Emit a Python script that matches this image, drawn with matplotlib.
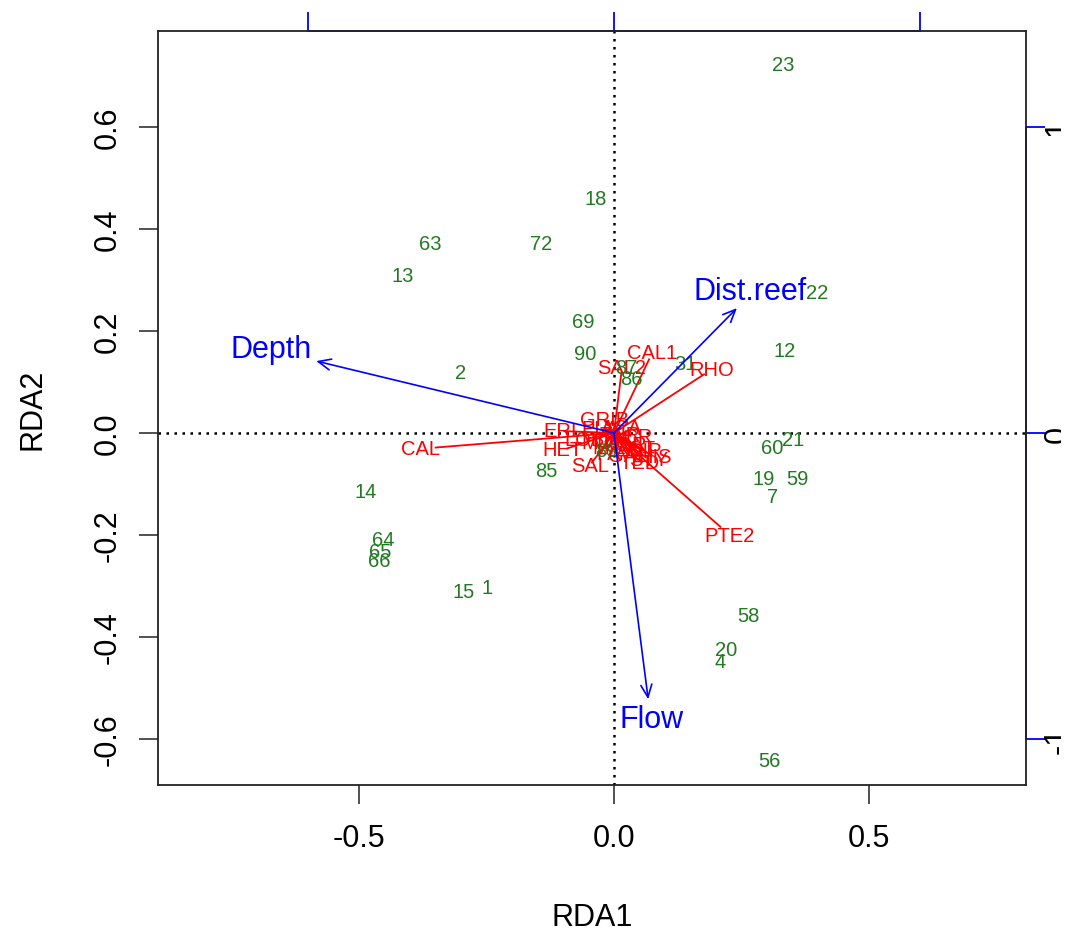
import numpy as np
import matplotlib.pyplot as plt
from matplotlib.transforms import Bbox

plt.rcParams['font.family'] = ['Liberation Sans', 'DejaVu Sans']
plt.rcParams['axes.unicode_minus'] = False

# site scores (RDA1, RDA2)
site_names = ['23', '18', '63', '72', '13', '22', '69', '90', '12', '2',
              '31', '87', '86', '60', '21', '19', '59', '7', '85', '89',
              '14', '64', '65', '66', '15', '1', '58', '20', '4', '56']
site_x = [0.331, -0.035, -0.361, -0.143, -0.414, 0.398, -0.061, -0.057, 0.335, -0.300,
          0.141, 0.025, 0.035, 0.310, 0.351, 0.294, 0.359, 0.312, -0.133, -0.014,
          -0.486, -0.453, -0.459, -0.461, -0.294, -0.249, 0.263, 0.220, 0.208, 0.304]
site_y = [0.722, 0.459, 0.371, 0.371, 0.308, 0.275, 0.218, 0.155, 0.161, 0.118,
          0.137, 0.129, 0.106, -0.029, -0.012, -0.090, -0.090, -0.124, -0.073, -0.035,
          -0.114, -0.208, -0.233, -0.249, -0.310, -0.302, -0.357, -0.424, -0.447, -0.641]

# species scores
sp_names = ['CAL', 'CAL1', 'RHO', 'PTE2', 'SAL2', 'GRIB', 'ERI', 'HET', 'SAL', 'TED',
            'HIS', 'POR', 'ACR', 'MON', 'FAV', 'LOB', 'PLA', 'DIP', 'TUR',
            'AST', 'GAL', 'MIL', 'STY', 'ACA']
sp_x = [-0.380, 0.075, 0.192, 0.227, 0.016, -0.018, -0.106, -0.100, -0.047, 0.051,
        0.080, 0.022, 0.035, -0.018, 0.002, -0.057, -0.027, 0.061, 0.012,
        0.045, 0.028, -0.010, 0.068, 0.015]
sp_y = [-0.031, 0.157, 0.125, -0.200, 0.129, 0.027, 0.004, -0.033, -0.063, -0.057,
        -0.047, -0.022, -0.006, -0.018, -0.041, -0.012, 0.008, -0.035, -0.002,
        -0.030, -0.045, -0.028, -0.052, 0.010]

# environmental biplot scores (right/top axis units) and label spots
env_names = ['Depth', 'Dist.reef', 'Flow']
env_x = [-0.973, 0.402, 0.112]
env_y = [0.235, 0.408, -0.870]
env_lab_x = [-0.672, 0.267, 0.073]
env_lab_y = [0.165, 0.278, -0.561]
mul = 0.6

green = '#217a21'

fig = plt.figure(figsize=(10.91, 9.37), dpi=100)
ax = fig.add_axes([158/1091, 1-786/937, 868/1091, 754/937])
ax.set_xlim(-0.894, 0.808)
ax.set_ylim(-0.690, 0.788)

ax.axhline(0, color='black', ls=(0, (1, 2.2)), lw=1.8, zorder=1)
ax.axvline(0, color='black', ls=(0, (1, 2.2)), lw=1.8, zorder=1)

# species arrows + labels
for n, x, y in zip(sp_names, sp_x, sp_y):
    ax.plot([0, x*0.92], [0, y*0.92], color='red', lw=1.3, zorder=2)
    ax.text(x, y, n, color='red', fontsize=14.5, ha='center', va='center', zorder=2)

# sites
for n, x, y in zip(site_names, site_x, site_y):
    ax.text(x, y, n, color=green, fontsize=14.5, ha='center', va='center', zorder=3)

# environmental arrows
for n, x, y, lx, ly in zip(env_names, env_x, env_y, env_lab_x, env_lab_y):
    ax.annotate('', xy=(x*mul, y*mul), xytext=(0, 0),
                arrowprops=dict(arrowstyle='->,head_length=0.5,head_width=0.22',
                                color='blue', lw=1.2, shrinkA=0, shrinkB=0,
                                mutation_scale=18), zorder=4)
    ax.text(lx, ly, n, color='blue', fontsize=22, ha='center', va='center', zorder=4)

ax.set_xticks([-0.5, 0.0, 0.5])
ax.set_xticklabels(['-0.5', '0.0', '0.5'])
ax.set_yticks([-0.6, -0.4, -0.2, 0.0, 0.2, 0.4, 0.6])
ax.set_yticklabels(['-0.6', '-0.4', '-0.2', '0.0', '0.2', '0.4', '0.6'])
ax.tick_params(length=13.7, width=1.1, labelsize=22, color='#222222')
ax.tick_params(axis='x', pad=14)
ax.tick_params(axis='y', pad=12, labelrotation=90)
for lab in ax.get_yticklabels():
    lab.set_va('center')
for s in ax.spines.values():
    s.set_linewidth(1.3)
    s.set_color('#222222')

ax.set_xlabel('RDA1', fontsize=22)
ax.xaxis.set_label_coords(0.5, -0.175)
ax.xaxis.label.set_va('center')
ax.set_ylabel('RDA2', fontsize=22)
ax.yaxis.set_label_coords(-0.145, 0.5)
ax.yaxis.label.set_va('center')

# biplot axes for the arrows (top labels sit above the picture)
top = ax.secondary_xaxis('top', functions=(lambda v: v/mul, lambda v: v*mul))
top.set_xticks([-1, 0, 1])
top.tick_params(length=13.7, width=1.3, color='blue', labeltop=False)
top.spines['top'].set_color('blue')
top.spines['top'].set_linewidth(1.3)
top.spines['top'].set_bounds(-1, 1)

right = ax.secondary_yaxis('right', functions=(lambda v: v/mul, lambda v: v*mul))
right.set_yticks([-1, 0, 1])
right.tick_params(length=13.7, width=1.3, color='blue', labelsize=22, labelrotation=90, pad=-2)
clip = Bbox([[1026, 0], [1061, 937]])
for lab in right.get_yticklabels():
    lab.set_va('center')
    lab.set_clip_on(True)
    lab.set_clip_box(clip)
right.spines['right'].set_color('blue')
right.spines['right'].set_linewidth(1.3)
right.spines['right'].set_bounds(-1, 1)

fig.savefig('out.png', dpi=100)
